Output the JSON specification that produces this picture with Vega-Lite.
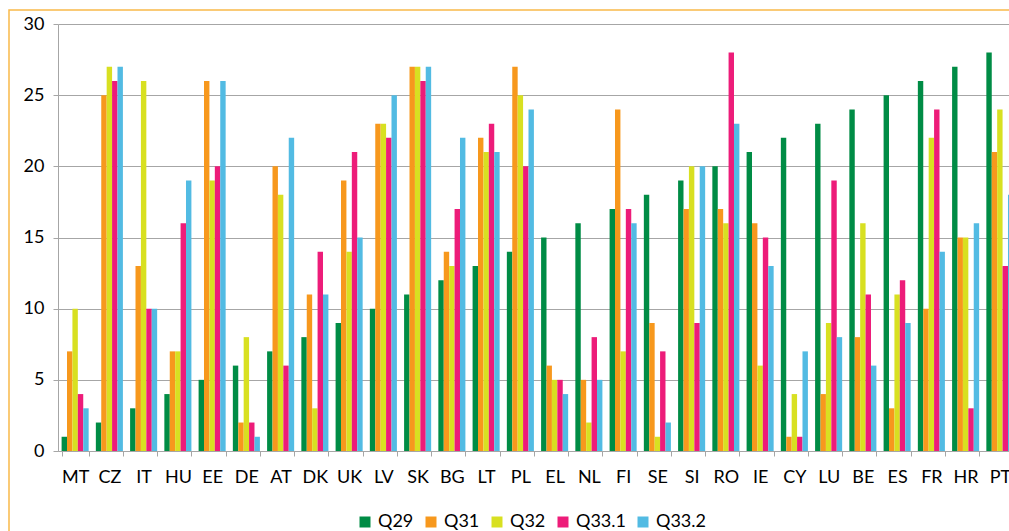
{
  "$schema": "https://vega.github.io/schema/vega-lite/v6.json",
  "autosize": "none",
  "width": 1009,
  "height": 530,
  "padding": {"left": 9, "top": 10, "right": 0, "bottom": 0},
  "background": "white",
  "config": {"view": {"stroke": "#F9B94A", "strokeWidth": 1.5}, "font": "Lato"},
  "data": {"values": [
    {"c":"MT","s":"Q29","v":1},{"c":"MT","s":"Q31","v":7},{"c":"MT","s":"Q32","v":10},{"c":"MT","s":"Q33.1","v":4},{"c":"MT","s":"Q33.2","v":3},
    {"c":"CZ","s":"Q29","v":2},{"c":"CZ","s":"Q31","v":25},{"c":"CZ","s":"Q32","v":27},{"c":"CZ","s":"Q33.1","v":26},{"c":"CZ","s":"Q33.2","v":27},
    {"c":"IT","s":"Q29","v":3},{"c":"IT","s":"Q31","v":13},{"c":"IT","s":"Q32","v":26},{"c":"IT","s":"Q33.1","v":10},{"c":"IT","s":"Q33.2","v":10},
    {"c":"HU","s":"Q29","v":4},{"c":"HU","s":"Q31","v":7},{"c":"HU","s":"Q32","v":7},{"c":"HU","s":"Q33.1","v":16},{"c":"HU","s":"Q33.2","v":19},
    {"c":"EE","s":"Q29","v":5},{"c":"EE","s":"Q31","v":26},{"c":"EE","s":"Q32","v":19},{"c":"EE","s":"Q33.1","v":20},{"c":"EE","s":"Q33.2","v":26},
    {"c":"DE","s":"Q29","v":6},{"c":"DE","s":"Q31","v":2},{"c":"DE","s":"Q32","v":8},{"c":"DE","s":"Q33.1","v":2},{"c":"DE","s":"Q33.2","v":1},
    {"c":"AT","s":"Q29","v":7},{"c":"AT","s":"Q31","v":20},{"c":"AT","s":"Q32","v":18},{"c":"AT","s":"Q33.1","v":6},{"c":"AT","s":"Q33.2","v":22},
    {"c":"DK","s":"Q29","v":8},{"c":"DK","s":"Q31","v":11},{"c":"DK","s":"Q32","v":3},{"c":"DK","s":"Q33.1","v":14},{"c":"DK","s":"Q33.2","v":11},
    {"c":"UK","s":"Q29","v":9},{"c":"UK","s":"Q31","v":19},{"c":"UK","s":"Q32","v":14},{"c":"UK","s":"Q33.1","v":21},{"c":"UK","s":"Q33.2","v":15},
    {"c":"LV","s":"Q29","v":10},{"c":"LV","s":"Q31","v":23},{"c":"LV","s":"Q32","v":23},{"c":"LV","s":"Q33.1","v":22},{"c":"LV","s":"Q33.2","v":25},
    {"c":"SK","s":"Q29","v":11},{"c":"SK","s":"Q31","v":27},{"c":"SK","s":"Q32","v":27},{"c":"SK","s":"Q33.1","v":26},{"c":"SK","s":"Q33.2","v":27},
    {"c":"BG","s":"Q29","v":12},{"c":"BG","s":"Q31","v":14},{"c":"BG","s":"Q32","v":13},{"c":"BG","s":"Q33.1","v":17},{"c":"BG","s":"Q33.2","v":22},
    {"c":"LT","s":"Q29","v":13},{"c":"LT","s":"Q31","v":22},{"c":"LT","s":"Q32","v":21},{"c":"LT","s":"Q33.1","v":23},{"c":"LT","s":"Q33.2","v":21},
    {"c":"PL","s":"Q29","v":14},{"c":"PL","s":"Q31","v":27},{"c":"PL","s":"Q32","v":25},{"c":"PL","s":"Q33.1","v":20},{"c":"PL","s":"Q33.2","v":24},
    {"c":"EL","s":"Q29","v":15},{"c":"EL","s":"Q31","v":6},{"c":"EL","s":"Q32","v":5},{"c":"EL","s":"Q33.1","v":5},{"c":"EL","s":"Q33.2","v":4},
    {"c":"NL","s":"Q29","v":16},{"c":"NL","s":"Q31","v":5},{"c":"NL","s":"Q32","v":2},{"c":"NL","s":"Q33.1","v":8},{"c":"NL","s":"Q33.2","v":5},
    {"c":"FI","s":"Q29","v":17},{"c":"FI","s":"Q31","v":24},{"c":"FI","s":"Q32","v":7},{"c":"FI","s":"Q33.1","v":17},{"c":"FI","s":"Q33.2","v":16},
    {"c":"SE","s":"Q29","v":18},{"c":"SE","s":"Q31","v":9},{"c":"SE","s":"Q32","v":1},{"c":"SE","s":"Q33.1","v":7},{"c":"SE","s":"Q33.2","v":2},
    {"c":"SI","s":"Q29","v":19},{"c":"SI","s":"Q31","v":17},{"c":"SI","s":"Q32","v":20},{"c":"SI","s":"Q33.1","v":9},{"c":"SI","s":"Q33.2","v":20},
    {"c":"RO","s":"Q29","v":20},{"c":"RO","s":"Q31","v":17},{"c":"RO","s":"Q32","v":16},{"c":"RO","s":"Q33.1","v":28},{"c":"RO","s":"Q33.2","v":23},
    {"c":"IE","s":"Q29","v":21},{"c":"IE","s":"Q31","v":16},{"c":"IE","s":"Q32","v":6},{"c":"IE","s":"Q33.1","v":15},{"c":"IE","s":"Q33.2","v":13},
    {"c":"CY","s":"Q29","v":22},{"c":"CY","s":"Q31","v":1},{"c":"CY","s":"Q32","v":4},{"c":"CY","s":"Q33.1","v":1},{"c":"CY","s":"Q33.2","v":7},
    {"c":"LU","s":"Q29","v":23},{"c":"LU","s":"Q31","v":4},{"c":"LU","s":"Q32","v":9},{"c":"LU","s":"Q33.1","v":19},{"c":"LU","s":"Q33.2","v":8},
    {"c":"BE","s":"Q29","v":24},{"c":"BE","s":"Q31","v":8},{"c":"BE","s":"Q32","v":16},{"c":"BE","s":"Q33.1","v":11},{"c":"BE","s":"Q33.2","v":6},
    {"c":"ES","s":"Q29","v":25},{"c":"ES","s":"Q31","v":3},{"c":"ES","s":"Q32","v":11},{"c":"ES","s":"Q33.1","v":12},{"c":"ES","s":"Q33.2","v":9},
    {"c":"FR","s":"Q29","v":26},{"c":"FR","s":"Q31","v":10},{"c":"FR","s":"Q32","v":22},{"c":"FR","s":"Q33.1","v":24},{"c":"FR","s":"Q33.2","v":14},
    {"c":"HR","s":"Q29","v":27},{"c":"HR","s":"Q31","v":15},{"c":"HR","s":"Q32","v":15},{"c":"HR","s":"Q33.1","v":3},{"c":"HR","s":"Q33.2","v":16},
    {"c":"PT","s":"Q29","v":28},{"c":"PT","s":"Q31","v":21},{"c":"PT","s":"Q32","v":24},{"c":"PT","s":"Q33.1","v":13},{"c":"PT","s":"Q33.2","v":18}
  ]},
  "mark": {"type": "bar"},
  "encoding": {
    "x": {
      "field": "c", "type": "nominal", "sort": null,
      "scale": {"range": [49, 1008], "paddingInner": 0.21, "paddingOuter": 0.105},
      "axis": {"title": null, "labelAngle": 0, "offset": -89, "tickBand": "extent", "tickSize": 5,
               "tickColor": "#A6A6A6", "domainColor": "#A6A6A6", "labelFont": "Lato", "labelFontSize": 18,
               "labelColor": "#000000", "labelPadding": 12, "grid": false}
    },
    "xOffset": {"field": "s", "type": "nominal", "sort": null, "scale": {"paddingInner": 0, "paddingOuter": 0}},
    "y": {
      "field": "v", "type": "quantitative",
      "scale": {"domain": [0, 30], "range": [441, 14], "nice": false, "zero": true},
      "axis": {"title": null, "offset": -49, "values": [0, 5, 10, 15, 20, 25, 30], "grid": true,
               "gridColor": "#A6A6A6", "gridWidth": 1, "tickSize": 5, "tickColor": "#A6A6A6",
               "domainColor": "#A6A6A6", "labelFont": "Lato", "labelFontSize": 18, "labelColor": "#000000",
               "labelPadding": 9}
    },
    "color": {
      "field": "s", "type": "nominal", "sort": null,
      "scale": {"domain": ["Q29", "Q31", "Q32", "Q33.1", "Q33.2"],
                "range": ["#008C45", "#F7981D", "#D8E021", "#ED1C79", "#52BBE3"]},
      "legend": {"orient": "none", "legendX": 347, "legendY": 503, "direction": "horizontal", "title": null,
                 "symbolType": "square", "symbolSize": 121, "symbolStrokeWidth": 0, "labelFont": "Lato",
                 "labelFontSize": 18, "labelColor": "#000000", "columnPadding": 8, "labelOffset": 4, "padding": 0}
    }
  }
}
